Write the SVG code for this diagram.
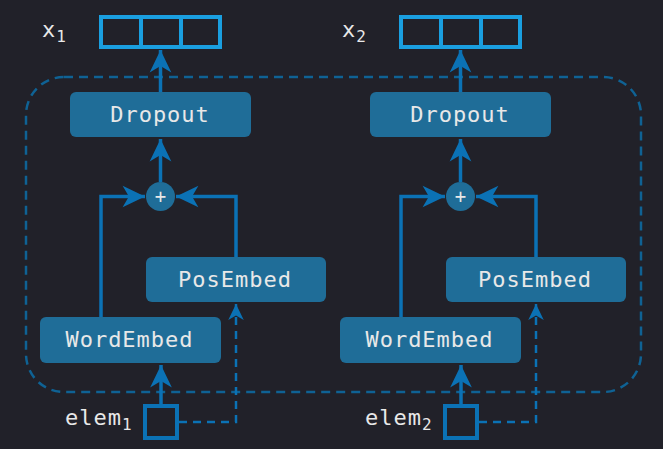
<svg xmlns="http://www.w3.org/2000/svg" width="663" height="449" viewBox="0 0 663 449">
<style>
.bg{fill:#212129}
.node rect{fill:#1f6d98}
.lbl{font-family:"DejaVu Sans Mono","Liberation Mono",monospace;font-size:22px;fill:#e8e8e8;letter-spacing:1px}
.node text{text-anchor:middle}
.vec{fill:none;stroke:#1a9fe0;stroke-width:4}
.conn{fill:none;stroke:#0b72b5;stroke-width:3.5}
.dash{fill:none;stroke:#0b72b5;stroke-width:2.5;stroke-dasharray:8 6}
.frame{fill:none;stroke:#0f6294;stroke-width:2.5;stroke-dasharray:9 6}
.inp{fill:none;stroke:#0b72b5;stroke-width:4}
.plus{fill:#1f6d98}
</style>
<defs>
<marker id="ah" viewBox="-7 -4 8 8" refX="0" refY="0" markerWidth="8" markerHeight="8" orient="auto" markerUnits="strokeWidth">
<path d="M0,0 L-6.4,-3.1 L-4.6,0 L-6.4,3.1 Z" fill="#0b72b5"/>
</marker>
</defs>
<rect class="bg" x="0" y="0" width="663" height="449"/>
<rect class="frame" x="26" y="77" width="615" height="315" rx="38"/>

<g id="column1">
<g id="x1">
<rect class="vec" x="101" y="17" width="119" height="30"/>
<line class="vec" x1="141" y1="17" x2="141" y2="47"/>
<line class="vec" x1="181" y1="17" x2="181" y2="47"/>
<text class="lbl" x="42" y="37">x<tspan font-size="16" dy="5">1</tspan></text>
</g>
<g id="dropout1" class="node">
<rect x="70" y="92" width="181" height="45" rx="6"/>
<text class="lbl" x="160" y="122">Dropout</text>
</g>
<g id="plus1">
<circle class="plus" cx="160.5" cy="196.5" r="14.5"/>
<text x="160.5" y="202.5" text-anchor="middle" font-family="DejaVu Sans Mono, monospace" font-size="19" fill="#e8e8e8">+</text>
</g>
<g id="posembed1" class="node">
<rect x="146" y="257" width="180" height="45" rx="6"/>
<text class="lbl" x="235" y="287">PosEmbed</text>
</g>
<g id="wordembed1" class="node">
<rect x="40" y="317" width="181" height="46" rx="6"/>
<text class="lbl" x="129.5" y="347">WordEmbed</text>
</g>
<g id="elem1">
<rect class="inp" x="145" y="406" width="32" height="32"/>
<text class="lbl" x="65" y="425">elem<tspan font-size="16" dy="5">1</tspan></text>
</g>
</g>

<g id="column2" transform="translate(300,0)">
<g id="x2">
<rect class="vec" x="101" y="17" width="119" height="30"/>
<line class="vec" x1="141" y1="17" x2="141" y2="47"/>
<line class="vec" x1="181" y1="17" x2="181" y2="47"/>
<text class="lbl" x="42" y="37">x<tspan font-size="16" dy="5">2</tspan></text>
</g>
<g id="dropout2" class="node">
<rect x="70" y="92" width="181" height="45" rx="6"/>
<text class="lbl" x="160" y="122">Dropout</text>
</g>
<g id="plus2">
<circle class="plus" cx="160.5" cy="196.5" r="14.5"/>
<text x="160.5" y="202.5" text-anchor="middle" font-family="DejaVu Sans Mono, monospace" font-size="19" fill="#e8e8e8">+</text>
</g>
<g id="posembed2" class="node">
<rect x="146" y="257" width="180" height="45" rx="6"/>
<text class="lbl" x="235" y="287">PosEmbed</text>
</g>
<g id="wordembed2" class="node">
<rect x="40" y="317" width="181" height="46" rx="6"/>
<text class="lbl" x="129.5" y="347">WordEmbed</text>
</g>
<g id="elem2">
<rect class="inp" x="145" y="406" width="32" height="32"/>
<text class="lbl" x="65" y="425">elem<tspan font-size="16" dy="5">2</tspan></text>
</g>
</g>

<g id="connectors">
<path class="conn" d="M160.5,92 V50" marker-end="url(#ah)"/>
<path class="conn" d="M160.5,182 V139" marker-end="url(#ah)"/>
<path class="conn" d="M101,317 V196.5 H145" marker-end="url(#ah)"/>
<path class="conn" d="M236,257 V196.5 H176" marker-end="url(#ah)"/>
<path class="conn" d="M161,404 V365" marker-end="url(#ah)"/>
<path class="dash" d="M179,422 H236 V304" marker-end="url(#ah)"/>
<path class="conn" d="M460.5,92 V50" marker-end="url(#ah)"/>
<path class="conn" d="M460.5,182 V139" marker-end="url(#ah)"/>
<path class="conn" d="M401,317 V196.5 H445" marker-end="url(#ah)"/>
<path class="conn" d="M536,257 V196.5 H476" marker-end="url(#ah)"/>
<path class="conn" d="M461,404 V365" marker-end="url(#ah)"/>
<path class="dash" d="M479,422 H536 V304" marker-end="url(#ah)"/>
</g>
</svg>
